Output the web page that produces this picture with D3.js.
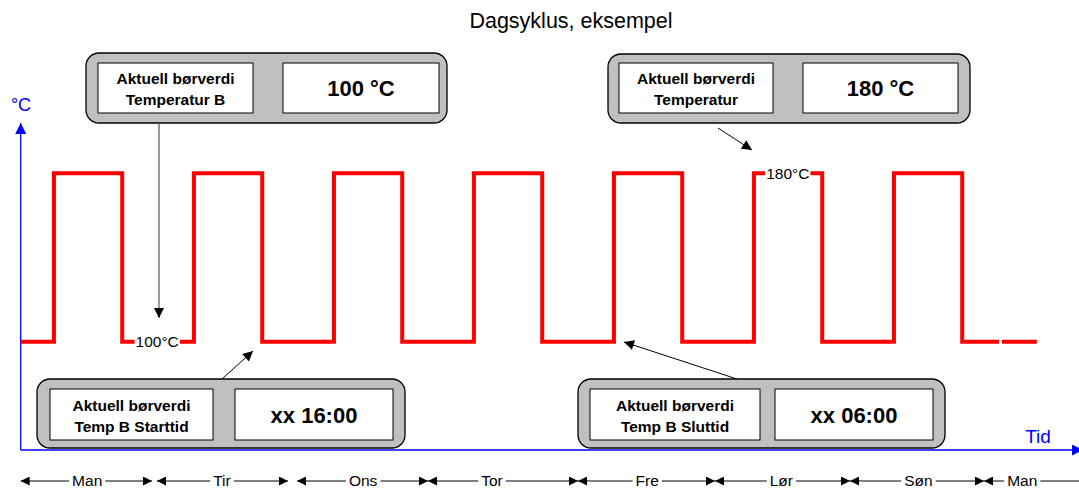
<!DOCTYPE html>
<html><head><meta charset="utf-8">
<script src="https://cdn.jsdelivr.net/npm/d3@7"></script>
<style>body{margin:0;background:#fff} svg{display:block} text{font-family:"Liberation Sans",Arial,Helvetica,sans-serif}</style>
</head><body><svg id="c" width="1079" height="489"></svg>
<script>
// ---- data ----
const title = "Dagsyklus, eksempel";
const yUnit = "°C";
const xUnit = "Tid";
const lowTemp = 100;
const highTemp = 180;
const riseHours = [5.7, 29.7, 53.7, 77.7, 101.7, 125.7, 149.7];
const fallHours = [17.4, 41.4, 65.4, 89.4, 113.4, 137.4, 161.4];
const tailEnd = 167.7;
const lastPiece = [168.2, 174.2];
const dayLabels = ["Man", "Tir", "Ons", "Tor", "Fre", "Lør", "Søn", "Man"];
const dayStart = [0, 23.37, 47.37, 69.82, 95.54, 119.02, 142.17, 165.14];
const dayEnd = [22.51, 45.82, 69.82, 95.54, 119.02, 142.17, 165.14, 190];
const dayLabelAt = [11.4, 34.5, 58.7, 80.8, 107.4, 130.4, 153.9, 171.7];
const pointLabels = ["100°C", "180°C"];
const pointLabelHours = [23.4, 131.5];
const pointLabelTemps = [100, 180];
const calloutLabels = [["Aktuell børverdi", "Temperatur B"], ["Aktuell børverdi", "Temperatur"],
                       ["Aktuell børverdi", "Temp B Starttid"], ["Aktuell børverdi", "Temp B Sluttid"]];
const calloutValues = ["100 °C", "180 °C", "xx 16:00", "xx 06:00"];

// ---- layout ----
const svg = d3.select("#c");
const x = d3.scaleLinear().domain([0, 24]).range([20.7, 160.7]);
const y = d3.scaleLinear().domain([100, 180]).range([341.7, 173.3]);
const axisX0 = 20.7, axisY0 = 450, axisTop = 123, axisRight = 1083;

const defs = svg.append("defs");
function marker(id, color, w, h) {
  defs.append("marker").attr("id", id).attr("viewBox", "0 0 10 10")
    .attr("refX", 10).attr("refY", 5).attr("markerWidth", w).attr("markerHeight", h)
    .attr("markerUnits", "userSpaceOnUse").attr("orient", "auto-start-reverse")
    .append("path").attr("d", "M0,0L10,5L0,10Z").attr("fill", color);
}
marker("ab", "#0000ff", 11, 11);
marker("ak", "#000", 14, 9);
marker("ap", "#000", 12, 10);

// title
svg.append("text").attr("x", 571).attr("y", 28).attr("text-anchor", "middle")
  .attr("font-size", 21.5).attr("fill", "#000").text(title);

// axes
svg.append("line").attr("x1", axisX0).attr("y1", axisY0).attr("x2", axisX0).attr("y2", axisTop)
  .attr("stroke", "#0000ff").attr("stroke-width", 1.3).attr("marker-end", "url(#ab)");
svg.append("line").attr("x1", axisX0).attr("y1", axisY0).attr("x2", axisRight).attr("y2", axisY0)
  .attr("stroke", "#0000ff").attr("stroke-width", 1.3).attr("marker-end", "url(#ab)");
svg.append("text").attr("x", 21).attr("y", 111).attr("text-anchor", "middle").attr("font-size", 18)
  .attr("fill", "#0000ff").text(yUnit);
svg.append("text").attr("x", 1038).attr("y", 443).attr("text-anchor", "middle").attr("font-size", 19)
  .attr("fill", "#0000ff").text(xUnit);

// wave
const pts = [[0, lowTemp]];
riseHours.forEach((r, i) => {
  pts.push([r, lowTemp], [r, highTemp], [fallHours[i], highTemp], [fallHours[i], lowTemp]);
});
pts.push([tailEnd, lowTemp]);
const line = d3.line().x(d => x(d[0])).y(d => y(d[1]));
svg.append("path").attr("d", line(pts)).attr("fill", "none").attr("stroke", "#ff0000")
  .attr("stroke-width", 4).attr("stroke-linejoin", "miter");
svg.append("path").attr("d", line(lastPiece.map(h => [h, lowTemp]))).attr("fill", "none")
  .attr("stroke", "#ff0000").attr("stroke-width", 4);

// point labels
pointLabels.forEach((t, i) => {
  const g = svg.append("g");
  const tx = g.append("text").attr("x", x(pointLabelHours[i])).attr("y", y(pointLabelTemps[i]) + 5.5)
    .attr("text-anchor", "middle").attr("font-size", 15.5).attr("fill", "#000").text(t);
  const bb = tx.node().getBBox();
  g.insert("rect", "text").attr("x", bb.x - 1).attr("y", bb.y + 2).attr("width", bb.width + 2)
    .attr("height", bb.height - 4).attr("fill", "#fff");
});

// day row
const rowY = 481;
dayLabels.forEach((d, i) => {
  svg.append("line").attr("x1", x(dayStart[i])).attr("x2", x(dayEnd[i])).attr("y1", rowY).attr("y2", rowY)
    .attr("stroke", "#000").attr("stroke-width", 1)
    .attr("marker-start", "url(#ak)").attr("marker-end", "url(#ak)");
  const g = svg.append("g");
  const tx = g.append("text").attr("x", x(dayLabelAt[i])).attr("y", rowY + 5).attr("text-anchor", "middle")
    .attr("font-size", 15.5).attr("fill", "#000").text(d);
  const bb = tx.node().getBBox();
  g.insert("rect", "text").attr("x", bb.x - 3).attr("y", rowY - 3).attr("width", bb.width + 6)
    .attr("height", 6).attr("fill", "#fff");
});

// callouts
const boxes = [
  {o: [86, 53, 361, 70], l: [98, 63, 155, 50], r: [283, 63, 156, 50]},
  {o: [608, 54, 362, 69], l: [619, 63, 154, 50], r: [803, 63, 155, 50]},
  {o: [37, 379, 368, 69], l: [50, 389, 163, 51], r: [235, 389, 158, 51]},
  {o: [578, 379, 367, 69], l: [590, 389, 170, 51], r: [775, 389, 158, 51]}
];
boxes.forEach((b, i) => {
  svg.append("rect").attr("x", b.o[0]).attr("y", b.o[1]).attr("width", b.o[2]).attr("height", b.o[3])
    .attr("rx", 13).attr("fill", "#c0c0c0").attr("stroke", "#000").attr("stroke-width", 1.3);
  [b.l, b.r].forEach(r => svg.append("rect").attr("x", r[0]).attr("y", r[1]).attr("width", r[2])
    .attr("height", r[3]).attr("fill", "#fff").attr("stroke", "#000").attr("stroke-width", 1));
  const cx = b.l[0] + b.l[2] / 2, cy = b.l[1] + b.l[3] / 2;
  calloutLabels[i].forEach((t, k) => {
    svg.append("text").attr("x", cx).attr("y", cy - 4 + k * 21).attr("text-anchor", "middle")
      .attr("font-size", 15.5).attr("font-weight", "bold").attr("fill", "#000").text(t);
  });
  svg.append("text").attr("x", b.r[0] + b.r[2] / 2).attr("y", b.r[1] + b.r[3] / 2 + 8)
    .attr("text-anchor", "middle").attr("font-size", 22).attr("font-weight", "bold")
    .attr("fill", "#000").text(calloutValues[i]);
});

// pointers
svg.append("line").attr("x1", 159).attr("y1", 123).attr("x2", 159).attr("y2", 318)
  .attr("stroke", "#555").attr("stroke-width", 1.2).attr("marker-end", "url(#ap)");
[[718, 128, 752, 150], [222, 379, 253, 351], [737, 379, 624, 342]].forEach(p => {
  svg.append("line").attr("x1", p[0]).attr("y1", p[1]).attr("x2", p[2]).attr("y2", p[3])
    .attr("stroke", "#000").attr("stroke-width", 1).attr("marker-end", "url(#ap)");
});
</script></body></html>
